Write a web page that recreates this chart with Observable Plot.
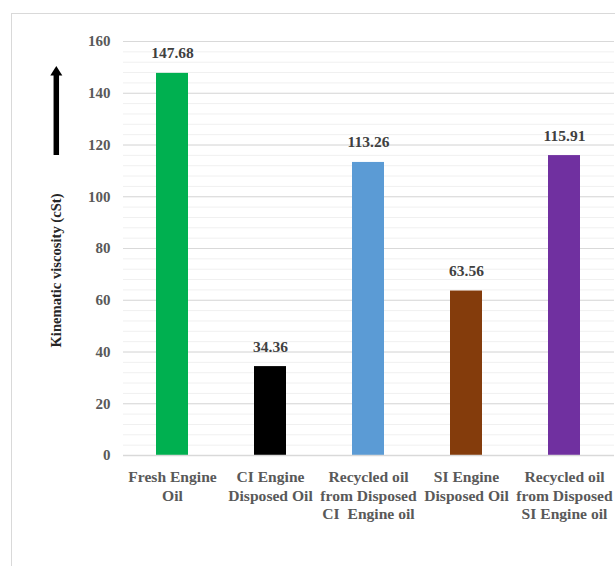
<!DOCTYPE html>
<html>
<head>
<meta charset="utf-8">
<script src="https://cdn.jsdelivr.net/npm/d3@7"></script>
<script src="https://cdn.jsdelivr.net/npm/@observablehq/plot@0.6"></script>
<style>
  html, body { margin: 0; padding: 0; overflow: hidden; background: #fff; }
  #wrap { position: relative; width: 615px; height: 566px; overflow: hidden; background: #fff; }
  #frame { position: absolute; left: 11px; top: 13px; width: 700px; height: 700px; border: 1.5px solid #d9d9d9; box-sizing: border-box; }
  #chart { position: absolute; left: 0; top: 0; }
  #arrow { position: absolute; left: 0; top: 0; }
</style>
</head>
<body>
<div id="wrap">
  <div id="frame"></div>
  <div id="chart"></div>
  <svg id="arrow" width="615" height="566">
    <line x1="56.3" y1="155" x2="56.3" y2="74" stroke="#000" stroke-width="5.5"></line>
    <polygon points="50.3,75.5 62.3,75.5 56.3,66" fill="#000"></polygon>
  </svg>
</div>
<script>
const categories = [
  "Fresh Engine Oil",
  "CI Engine Disposed Oil",
  "Recycled oil from Disposed CI Engine oil",
  "SI Engine Disposed Oil",
  "Recycled oil from Disposed SI Engine oil"
];
const tickLabels = [
  "Fresh Engine\nOil",
  "CI Engine\nDisposed Oil",
  "Recycled oil\nfrom Disposed\nCI  Engine oil",
  "SI Engine\nDisposed Oil",
  "Recycled oil\nfrom Disposed\nSI Engine oil"
];
const values = [147.68, 34.36, 113.26, 63.56, 115.91];
const colors = ["#00B050", "#000000", "#5B9BD5", "#843C0C", "#7030A0"];
const yTitle = "Kinematic viscosity (cSt)";
const yMajorTicks = d3.range(0, 161, 20);
const yMinorTicks = d3.range(0, 161, 4);

const data = categories.map((c, i) => ({cat: c, value: values[i], color: colors[i]}));
const labelOf = new Map(categories.map((c, i) => [c, tickLabels[i]]));

const font = "'Liberation Serif', 'Times New Roman', serif";

const chart = Plot.plot({
  width: 615,
  height: 566,
  marginLeft: 123,
  marginRight: 1,
  marginTop: 41,
  marginBottom: 111,
  style: {fontFamily: font, background: "transparent"},
  x: {domain: categories, paddingInner: 0.67, paddingOuter: 0.335, axis: null},
  y: {domain: [0, 160], axis: null},
  marks: [
    Plot.gridY(yMinorTicks, {stroke: "#f0f0f0", strokeOpacity: 1, strokeWidth: 1}),
    Plot.gridY(yMajorTicks, {stroke: "#d9d9d9", strokeOpacity: 1, strokeWidth: 1.2}),
    Plot.barY(data, {x: "cat", y: "value", fill: "color"}),
    Plot.ruleY([0], {stroke: "#d9d9d9", strokeWidth: 1.6}),
    Plot.axisY(yMajorTicks, {
      tickSize: 0, tickPadding: 13, label: null,
      fontSize: 15, fontWeight: "bold", fill: "#595959"
    }),
    Plot.axisX({
      tickSize: 0, tickPadding: 13, label: null,
      tickFormat: (d) => labelOf.get(d),
      fontSize: 15.6, fontWeight: "bold", fill: "#595959", lineHeight: 1.2
    }),
    Plot.text(data, {
      x: "cat", y: "value", text: (d) => d.value.toFixed(2),
      lineAnchor: "bottom", dy: -15,
      fontSize: 15.5, fontWeight: "bold", fill: "#404040"
    }),
    Plot.text([yTitle], {
      frameAnchor: "left", textAnchor: "middle", lineAnchor: "middle",
      rotate: -90, dx: -67, dy: 22,
      fontSize: 14.6, fontWeight: "bold", fill: "#262626"
    })
  ]
});
document.getElementById("chart").appendChild(chart);
</script>
</body>
</html>
